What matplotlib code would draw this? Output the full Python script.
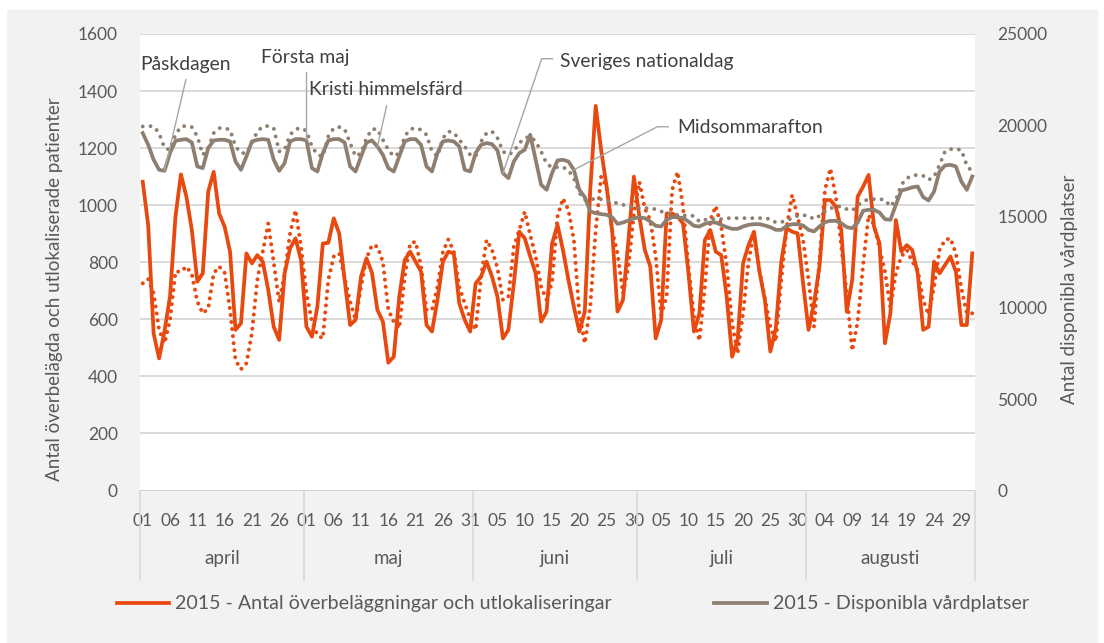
import numpy as np
import pandas as pd
import matplotlib
matplotlib.use('Agg')
import matplotlib.pyplot as plt
from matplotlib.patches import Rectangle
import matplotlib.transforms as mtransforms

plt.rcParams['font.family'] = ['Lato', 'DejaVu Sans']
plt.rcParams['font.size'] = 13.5

# daily values 1 april - 31 augusti
dagar = pd.date_range('2015-04-01', '2015-08-31', freq='D')
manader = ['april', 'maj', 'juni', 'juli', 'augusti']

overbel_2015 = [1082, 930, 550, 463, 560, 680, 960, 1108, 1030, 913,
                732, 761, 1047, 1117, 971, 925, 837, 563, 586, 831,
                796, 825, 802, 703, 574, 528, 761, 849, 884, 808,
                574, 539, 644, 866, 868, 954, 901, 738, 580, 598,
                750, 814, 763, 633, 592, 448, 469, 679, 808, 837,
                802, 767, 580, 557, 668, 802, 837, 831, 656, 598,
                557, 726, 750, 802, 750, 679, 533, 563, 726, 907,
                884, 820, 761, 592, 627, 865, 931, 843, 738, 644,
                557, 627, 1053, 1348, 1193, 1065, 913, 627, 668, 878,
                1100, 960, 843, 785, 533, 598, 971, 971, 960, 936,
                761, 557, 621, 878, 913, 837, 825, 679, 469, 528,
                796, 860, 907, 767, 668, 487, 568, 802, 919, 907,
                901, 726, 563, 656, 785, 1018, 1018, 995, 913, 627,
                738, 1030, 1065, 1106, 925, 866, 516, 621, 948, 837,
                860, 843, 761, 563, 574, 802, 761, 790, 820, 767,
                580, 580, 831]

overbel_jmf = [726, 741, 691, 563, 516, 598, 767, 767, 785, 758,
               662, 621, 638, 761, 785, 764, 633, 457, 425, 446,
               551, 739, 837, 936, 800, 660, 761, 901, 983, 855,
               691, 592, 545, 533, 738, 820, 831, 744, 662, 598,
               714, 814, 860, 855, 802, 633, 592, 568, 750, 866,
               872, 785, 633, 633, 714, 837, 880, 837, 714, 656,
               603, 563, 750, 878, 843, 779, 668, 679, 855, 913,
               977, 896, 820, 714, 668, 730, 960, 1024, 983, 878,
               621, 516, 644, 913, 1100, 1065, 913, 831, 691, 785,
               971, 1082, 989, 948, 820, 615, 680, 1053, 1117, 995,
               785, 610, 525, 714, 948, 997, 925, 790, 586, 481,
               621, 802, 901, 773, 674, 574, 522, 738, 925, 1036,
               960, 878, 738, 574, 808, 1053, 1129, 1030, 855, 691,
               490, 592, 790, 965, 930, 850, 767, 640, 762, 820,
               843, 802, 773, 668, 615, 714, 843, 878, 884, 831,
               709, 621, 621]

platser_2015 = [19573, 18933, 18111, 17563, 17508, 18478, 19153, 19207, 19243, 19060,
                17746, 17655, 18750, 19170, 19207, 19207, 19115, 18020, 17563, 18294,
                19115, 19207, 19243, 19207, 18111, 17508, 17929, 19115, 19243, 19243,
                19170, 17655, 17472, 18478, 19170, 19243, 19243, 19060, 17746, 17472,
                18294, 19060, 19170, 18842, 18385, 17655, 17472, 18294, 19115, 19243,
                19243, 18933, 17746, 17472, 18478, 19115, 19170, 19115, 18842, 17563,
                17472, 18478, 18933, 19025, 18970, 18622, 17380, 17106, 18020, 18478,
                18660, 19481, 18111, 16741, 16467, 17380, 18075, 18111, 18020, 17563,
                16467, 16066, 15280, 15190, 15135, 15100, 14970, 14604, 14677, 14786,
                14915, 14950, 14915, 14731, 14495, 14458, 14823, 14970, 14970, 14915,
                14731, 14495, 14458, 14604, 14677, 14677, 14549, 14421, 14330, 14330,
                14458, 14549, 14586, 14586, 14513, 14421, 14275, 14275, 14495, 14586,
                14586, 14513, 14275, 14184, 14458, 14695, 14768, 14768, 14641, 14421,
                14367, 14677, 15317, 15371, 15371, 15225, 14860, 14823, 15645, 16430,
                16505, 16603, 16650, 16066, 15883, 16375, 17472, 17800, 17836, 17746,
                16924, 16467, 17197]

platser_jmf = [19937, 19964, 19937, 19573, 18750, 18660, 19481, 19937, 19964, 19900,
               19390, 18385, 18750, 19573, 19846, 19846, 19755, 18842, 18478, 18478,
               19025, 19664, 19937, 19964, 19846, 18570, 18660, 19481, 19790, 19846,
               19700, 18842, 18385, 18294, 19390, 19846, 19900, 19790, 19025, 18294,
               18478, 19300, 19790, 19790, 19207, 18660, 18294, 18478, 19390, 19790,
               19846, 19755, 19481, 18568, 18294, 19300, 19664, 19600, 19207, 18842,
               18385, 18294, 19115, 19573, 19664, 19300, 18568, 18385, 18568, 19025,
               19300, 19390, 19115, 18568, 17900, 17690, 17711, 17711, 17535, 17100,
               16300, 15920, 15950, 15970, 15950, 15850, 15780, 15740, 15650, 15554,
               15500, 15463, 15463, 15463, 15400, 15280, 15190, 15150, 15097, 15070,
               15050, 15042, 14731, 14823, 14860, 14860, 14860, 14915, 14915, 14915,
               14915, 14915, 14915, 14915, 14915, 14860, 14677, 14700, 14786, 14915,
               15042, 15080, 15042, 14860, 15042, 15280, 15444, 15554, 15554, 15408,
               15334, 15608, 15828, 15956, 15956, 15956, 15920, 15554, 15920, 16741,
               17106, 17235, 17290, 17235, 17015, 17180, 17836, 18568, 18696, 18696,
               18650, 17800, 17450]

# helgdagar: (text, dag-index, textposition i dag/platser-koordinater)
helgdagar = [('Påskdagen', 4, (-0.5, 23317)),
             ('Första maj', 30, (21.6, 23701)),
             ('Kristi himmelsfärd', 43, (30.4, 21947)),
             ('Sveriges nationaldag', 66, (76.5, 23482)),
             ('Midsommarafton', 79, (98.0, 19865))]

orange = '#E8490F'
grå = '#8E7F70'
textfarg = '#595959'

fig = plt.figure(figsize=(11.04, 6.43), dpi=100)
fig.patches.append(Rectangle((7 / 1104, 0), 1090 / 1104, 633 / 643,
                             transform=fig.transFigure, color='#f2f2f2', zorder=-10))

ax = fig.add_axes([140 / 1104, 152.5 / 643, 835 / 1104, 456.5 / 643])
ax.set_facecolor('white')
x = np.arange(len(dagar))

ax.plot(x, overbel_jmf, color=orange, lw=2.9, linestyle=(0, (0.01, 1.75)),
        dash_capstyle='round', label='_jmf')
l1, = ax.plot(x, overbel_2015, color=orange, lw=2.7, solid_joinstyle='round',
              label='2015 - Antal överbeläggningar och utlokaliseringar')
ax.set_ylim(0, 1600)
ax.set_yticks(np.arange(0, 1601, 200))
ax.set_xlim(-0.5, len(dagar) - 0.5)
ax.grid(axis='y', color='#d9d9d9', lw=1.4)
ax.set_axisbelow(True)
for s in ax.spines.values():
    s.set_visible(False)
ax.tick_params(axis='y', length=0, pad=16, colors=textfarg, labelsize=12.5)
ax.set_xticks(x[::5])
ax.set_xticklabels([d.strftime('%d') for d in dagar[::5]])
ax.tick_params(axis='x', length=0, pad=16, colors=textfarg, labelsize=12.5)
ax.axhline(0, color='#d0d0d0', lw=1.4)

ax2 = ax.twinx()
ax2.plot(x, platser_jmf, color=grå, lw=2.8, linestyle=(0, (0.01, 2.0)),
         dash_capstyle='round', label='_jmf')
l2, = ax2.plot(x, platser_2015, color=grå, lw=2.7, solid_joinstyle='round',
               label='2015 - Disponibla vårdplatser')
ax2.set_ylim(0, 25000)
ax2.set_yticks(np.arange(0, 25001, 5000))
for s in ax2.spines.values():
    s.set_visible(False)
ax2.tick_params(axis='y', length=0, pad=16, colors=textfarg, labelsize=12.5)

# månader under dagarna
trans = mtransforms.blended_transform_factory(ax.transData, ax.transAxes)
gränser = [-0.5]
for m in range(4, 9):
    n = (dagar.month == m).sum()
    gränser.append(gränser[-1] + n)
for i, namn in enumerate(manader):
    ax.text((gränser[i] + gränser[i + 1]) / 2, -0.148, namn, transform=trans,
            ha='center', va='center', color=textfarg, fontsize=13.5)
for g in gränser:
    ax.plot([g, g], [0, -0.196], transform=trans, color='#d9d9d9', lw=1.2, clip_on=False)

# helgdagar
linje = '#a6a6a6'
for text, dag, (tx, ty) in helgdagar:
    ax2.text(tx, ty, text, ha='left', va='center', color='#404040', fontsize=13.9)
py = platser_2015
ax2.plot([4, 7.9], [py[4], 22495], color=linje, lw=1)
ax2.plot([30, 30], [py[30], 22934], color=linje, lw=1)
ax2.plot([43, 44.7], [py[43], 21071], color=linje, lw=1)
ax2.plot([66, 73.1, 75.1], [py[66], 23646, 23646], color=linje, lw=1)
ax2.plot([79, 94.3, 96.3], [py[79], 19920, 19920], color=linje, lw=1)

fig.text(55 / 1104, 1 - 289 / 643, 'Antal överbelägda och utlokaliserade patienter',
         rotation=90, ha='center', va='center', color=textfarg, fontsize=13.5)
fig.text(1070 / 1104, 1 - 289 / 643, 'Antal disponibla vårdplatser',
         rotation=90, ha='center', va='center', color=textfarg, fontsize=13.5)

fig.legend(handles=[l1, l2], loc='center', bbox_to_anchor=(0.5186, 39 / 643), ncol=2,
           frameon=False, handlelength=2.7, handletextpad=0.3, columnspacing=5.2,
           fontsize=14.1, labelcolor=textfarg)

fig.savefig('out.png', dpi=100)
